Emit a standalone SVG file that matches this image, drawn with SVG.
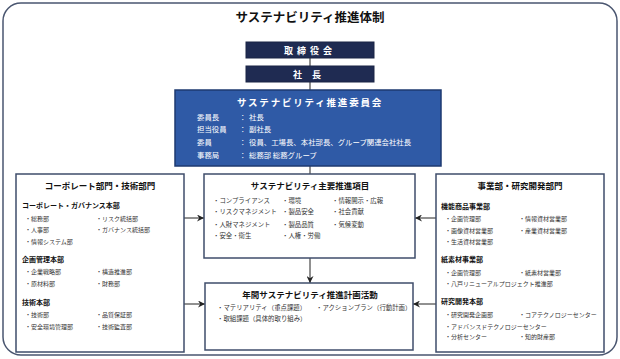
<svg xmlns="http://www.w3.org/2000/svg" width="620" height="359" viewBox="0 0 620 359">
<style>
.jp{font-family:"Noto Sans CJK JP","Noto Sans",sans-serif}
.box{fill:#fff;stroke:#3f4d6b;stroke-width:1.5}
.navy{fill:#1f2b52;stroke:#1a2445;stroke-width:1}
.blue{fill:#2f5aa6;stroke:#1e3a70;stroke-width:1.5}
.h{font-size:8.5px;font-weight:bold;fill:#111;text-anchor:middle}
.sh{font-size:7px;font-weight:bold;fill:#111}
.it{font-size:6px;fill:#333}
.it2{font-size:6.4px;fill:#333}
.cw{font-size:7.4px;fill:#fff}
.conn{stroke:#222;stroke-width:1;fill:none}
</style>
<defs>
<marker id="ah" viewBox="0 0 8 8" refX="8" refY="4" markerWidth="7" markerHeight="7" orient="auto" markerUnits="userSpaceOnUse">
<path d="M0,0 L8,4 L0,8 L2.5,4 z" fill="#222"/>
</marker>
</defs>
<rect x="3" y="3" width="614" height="352" rx="18" fill="none" stroke="#4a5670" stroke-width="1.5"/>
<text class="jp" x="310" y="22" font-size="12.5" font-weight="bold" text-anchor="middle" fill="#111">サステナビリティ推進体制</text>

<g id="connectors">
<line class="conn" x1="310" y1="58" x2="310" y2="66"/>
<line class="conn" x1="310" y1="82" x2="310" y2="90"/>
<line class="conn" x1="310" y1="166" x2="310" y2="174"/>
<line class="conn" x1="310" y1="258" x2="310" y2="283" marker-end="url(#ah)"/>
<line class="conn" x1="184" y1="218" x2="204" y2="218" marker-end="url(#ah)"/>
<line class="conn" x1="184" y1="304" x2="205" y2="304" marker-end="url(#ah)"/>
<line class="conn" x1="436" y1="218" x2="415" y2="218" marker-end="url(#ah)"/>
<line class="conn" x1="436" y1="304" x2="413" y2="304" marker-end="url(#ah)"/>
</g>

<g id="board">
<rect class="navy" x="246" y="42" width="128" height="16"/>
<text class="jp" x="310" y="53.5" font-size="9" font-weight="bold" fill="#fff" text-anchor="middle" letter-spacing="4">取締役会</text>
</g>
<g id="president">
<rect class="navy" x="246" y="66" width="128" height="16"/>
<text class="jp" x="312" y="77.5" font-size="9" font-weight="bold" fill="#fff" text-anchor="middle" letter-spacing="10">社長</text>
</g>

<g id="committee">
<rect class="blue" x="175" y="90" width="266" height="76"/>
<text class="jp" x="310" y="105.5" font-size="9.5" font-weight="bold" fill="#fff" text-anchor="middle" letter-spacing="1.8">サステナビリティ推進委員会</text>
<text class="jp cw" x="197" y="119.5">委員長</text><text class="jp cw" x="239" y="119.5">：</text><text class="jp cw" x="249" y="119.5">社長</text>
<text class="jp cw" x="197" y="132">担当役員</text><text class="jp cw" x="239" y="132">：</text><text class="jp cw" x="249" y="132">副社長</text>
<text class="jp cw" x="197" y="145">委員</text><text class="jp cw" x="239" y="145">：</text><text class="jp cw" x="249" y="145">役員、工場長、本社部長、グループ関連会社社長</text>
<text class="jp cw" x="197" y="158">事務局</text><text class="jp cw" x="239" y="158">：</text><text class="jp cw" x="249" y="158">総務部 総務グループ</text>
</g>

<g id="corporate">
<rect class="box" x="16" y="174" width="168" height="178"/>
<text class="jp h" x="100" y="189">コーポレート部門・技術部門</text>
<text class="jp sh" x="22" y="207.5">コーポレート・ガバナンス本部</text>
<text class="jp it" x="25" y="220.5">・総務部</text><text class="jp it" x="96" y="220.5">・リスク統括部</text>
<text class="jp it" x="25" y="231.5">・人事部</text><text class="jp it" x="96" y="231.5">・ガバナンス統括部</text>
<text class="jp it" x="25" y="243.5">・情報システム部</text>
<text class="jp sh" x="22" y="261.5">企画管理本部</text>
<text class="jp it" x="25" y="274">・企業戦略部</text><text class="jp it" x="96" y="274">・構造推進部</text>
<text class="jp it" x="25" y="285.5">・原材料部</text><text class="jp it" x="96" y="285.5">・財務部</text>
<text class="jp sh" x="22" y="305">技術本部</text>
<text class="jp it" x="25" y="317">・技術部</text><text class="jp it" x="96" y="317">・品質保証部</text>
<text class="jp it" x="25" y="329">・安全環境管理部</text><text class="jp it" x="96" y="329">・技術監査部</text>
</g>

<g id="main-items">
<rect class="box" x="204" y="174" width="211" height="84"/>
<text class="jp h" x="310" y="189">サステナビリティ主要推進項目</text>
<text class="jp it2" x="213" y="202.5">・コンプライアンス</text>
<text class="jp it2" x="213" y="214">・リスクマネジメント</text>
<text class="jp it2" x="213" y="226.5">・人財マネジメント</text>
<text class="jp it2" x="213" y="238">・安全・衛生</text>
<text class="jp it2" x="282" y="202.5">・環境</text>
<text class="jp it2" x="282" y="214">・製品安全</text>
<text class="jp it2" x="282" y="226.5">・製品品質</text>
<text class="jp it2" x="282" y="238">・人権・労働</text>
<text class="jp it2" x="332" y="202.5">・情報開示・広報</text>
<text class="jp it2" x="332" y="214">・社会貢献</text>
<text class="jp it2" x="332" y="226.5">・気候変動</text>
</g>

<g id="annual">
<rect class="box" x="205" y="283" width="208" height="67"/>
<text class="jp h" x="310" y="298">年間サステナビリティ推進計画活動</text>
<text class="jp it2" x="217" y="310">・マテリアリティ（重点課題）</text>
<text class="jp it2" x="316" y="310">・アクションプラン（行動計画）</text>
<text class="jp it2" x="217" y="321">・取組課題（具体的取り組み）</text>
</g>

<g id="business">
<rect class="box" x="436" y="174" width="168" height="178"/>
<text class="jp h" x="520" y="189">事業部・研究開発部門</text>
<text class="jp sh" x="441" y="209">機能商品事業部</text>
<text class="jp it" x="445" y="221">・企画管理部</text><text class="jp it" x="519" y="221">・情報資材営業部</text>
<text class="jp it" x="445" y="232.5">・画像資材営業部</text><text class="jp it" x="519" y="232.5">・産業資材営業部</text>
<text class="jp it" x="445" y="244">・生活資材営業部</text>
<text class="jp sh" x="441" y="262">紙素材事業部</text>
<text class="jp it" x="445" y="274.5">・企画管理部</text><text class="jp it" x="519" y="274.5">・紙素材営業部</text>
<text class="jp it" x="445" y="285.5">・八戸リニューアルプロジェクト推進部</text>
<text class="jp sh" x="441" y="304">研究開発本部</text>
<text class="jp it" x="445" y="317">・研究開発企画部</text><text class="jp it" x="519" y="317">・コアテクノロジーセンター</text>
<text class="jp it" x="445" y="328.5">・アドバンスドテクノロジーセンター</text>
<text class="jp it" x="445" y="339">・分析センター</text><text class="jp it" x="519" y="339">・知的財産部</text>
</g>
</svg>
